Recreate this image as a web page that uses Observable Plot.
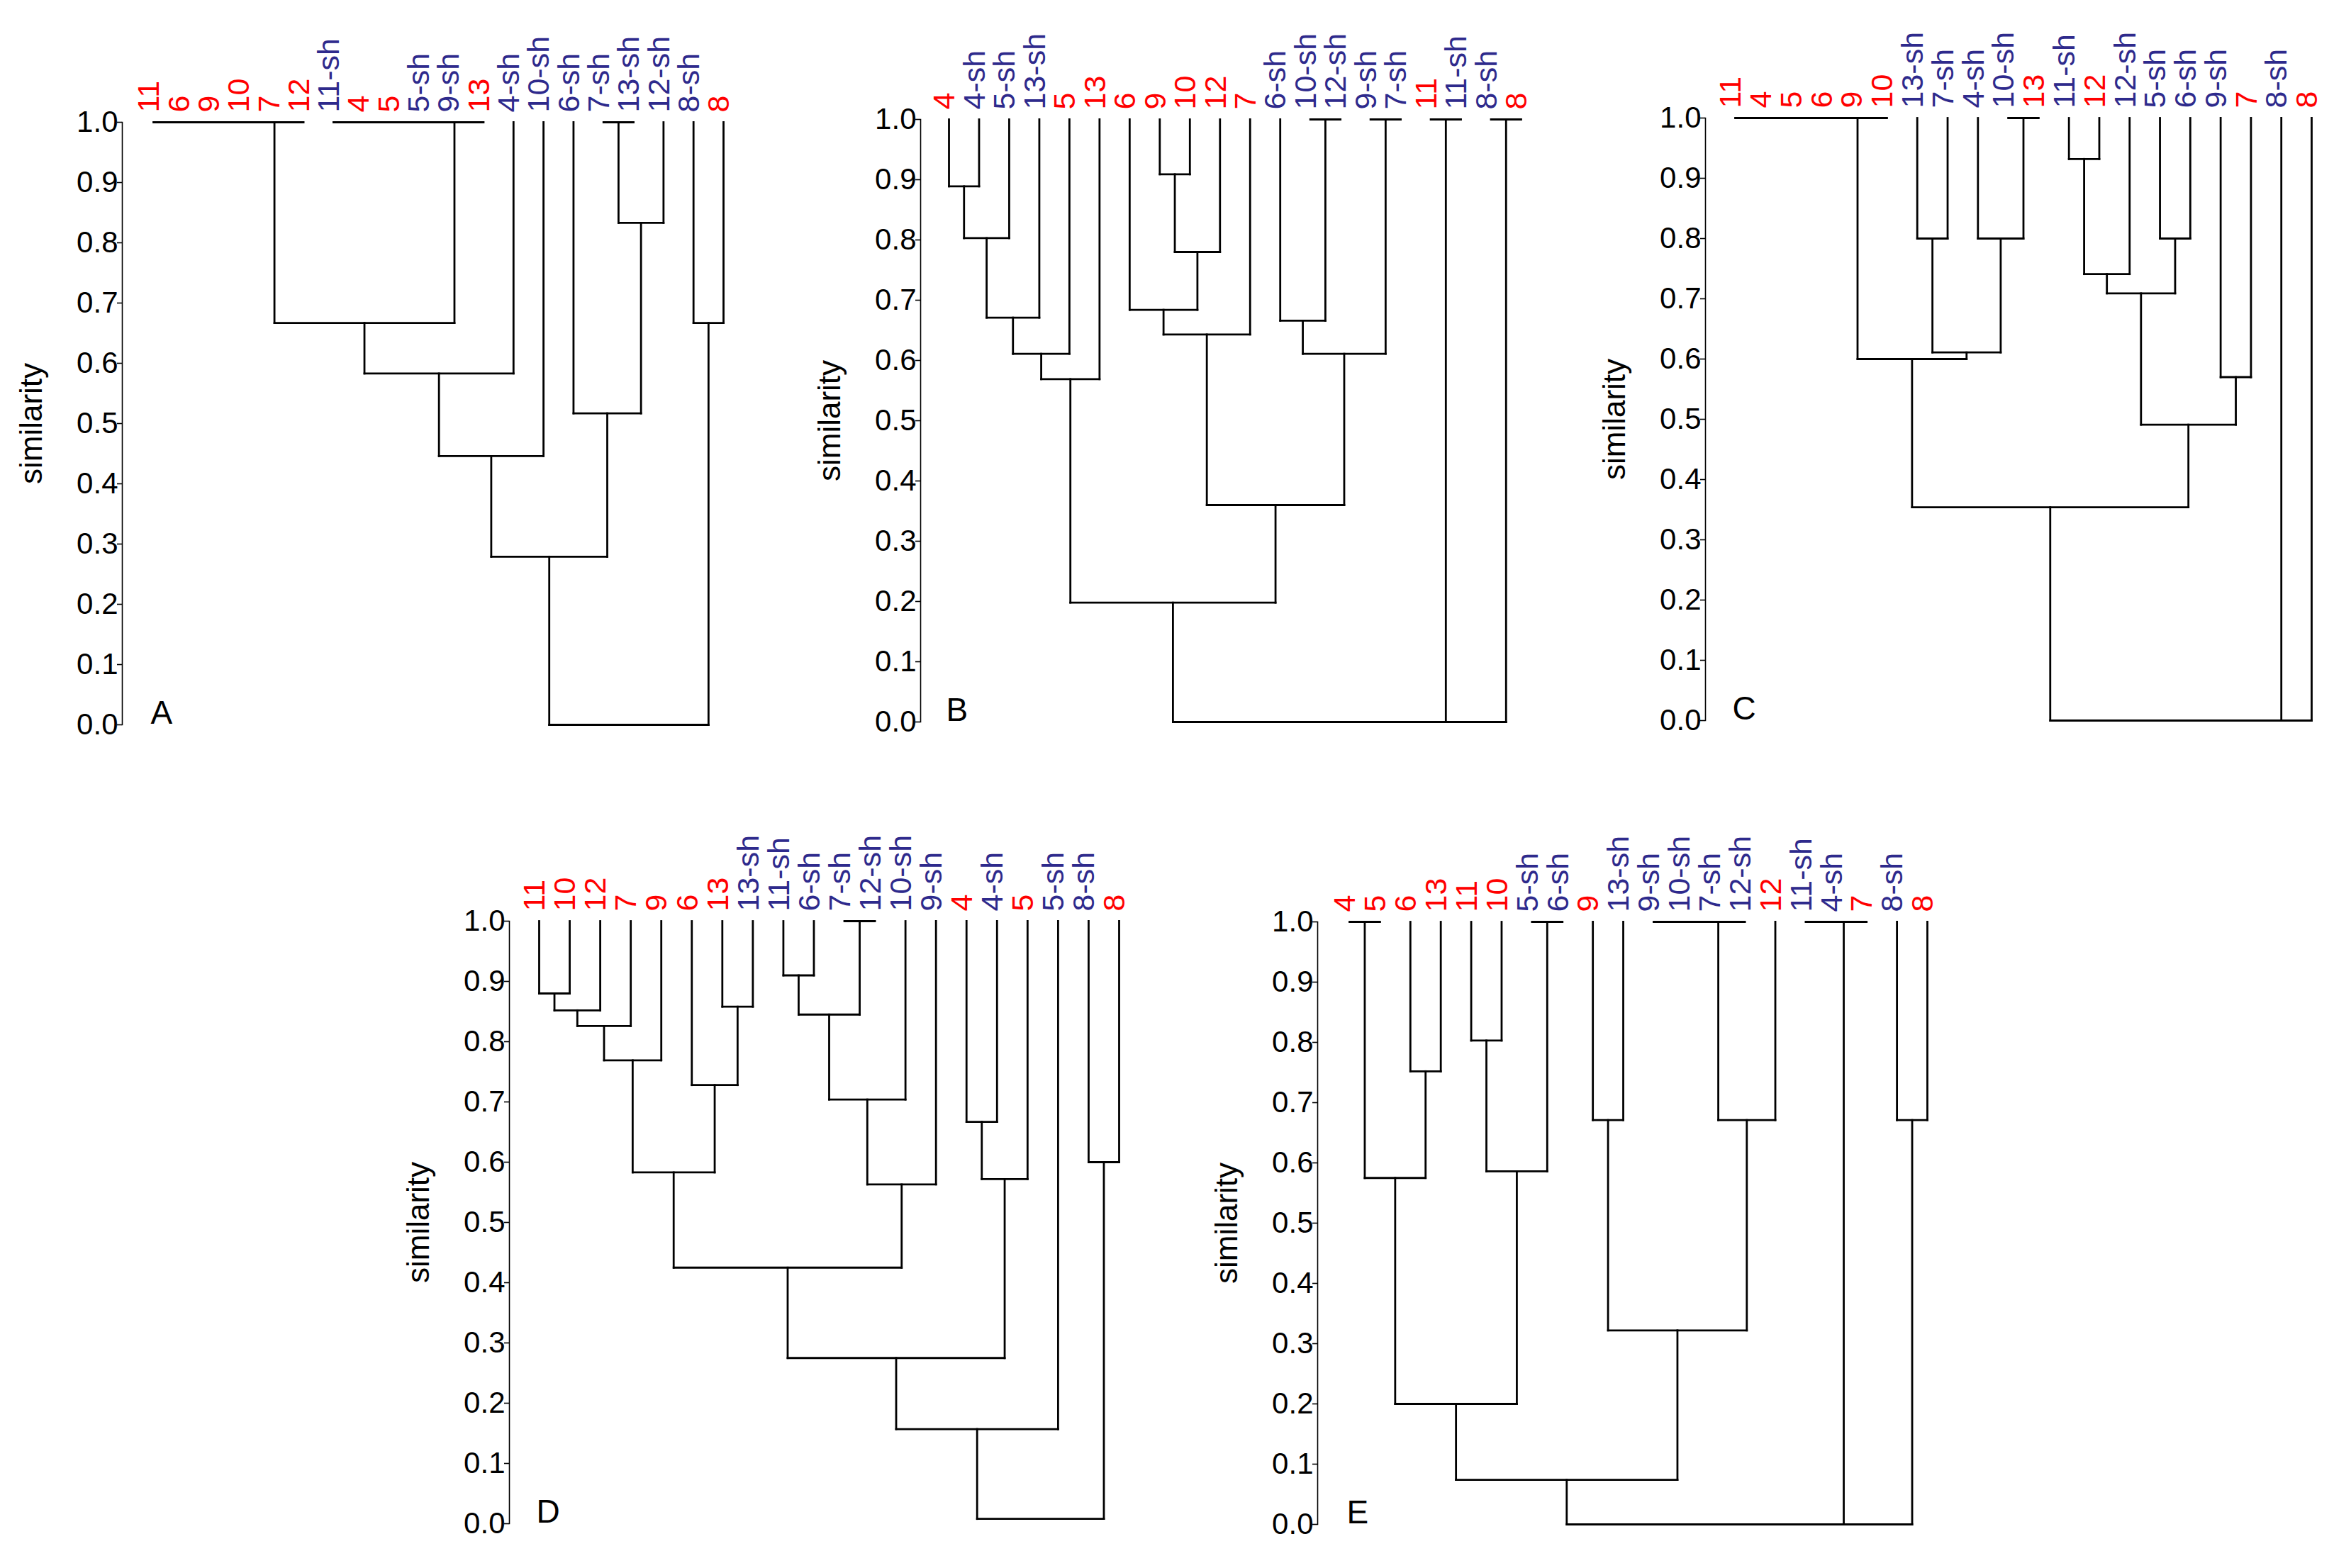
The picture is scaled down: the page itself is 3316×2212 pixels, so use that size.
<!DOCTYPE html>
<html>
<head>
<meta charset="utf-8">
<script src="https://cdn.jsdelivr.net/npm/d3@7"></script>
<script src="https://cdn.jsdelivr.net/npm/@observablehq/plot@0.6"></script>
<style>
  html, body { margin: 0; padding: 0; background: #fff; }
  #root { position: relative; width: 3316px; height: 2212px; background: #fff; overflow: hidden; }
  #root > div { position: absolute; }
</style>
</head>
<body>
<div id="root"></div>
<script>
// ---------- DATA ----------
// leaf order (left to right) and merges [left, right, similarity]; "cK" = result of merge K
const leavesA = ["11","6","9","10","7","12","11-sh","4","5","5-sh","9-sh","13","4-sh","10-sh","6-sh","7-sh","13-sh","12-sh","8-sh","8"];
const mergesA = [
  ["11","6",1.0],["c0","9",1.0],["c1","10",1.0],["c2","7",1.0],["c3","12",1.0],
  ["11-sh","4",1.0],["c5","5",1.0],["c6","5-sh",1.0],["c7","9-sh",1.0],["c8","13",1.0],
  ["c4","c9",0.667],["c10","4-sh",0.583],["c11","10-sh",0.446],
  ["7-sh","13-sh",1.0],["c13","12-sh",0.833],["6-sh","c14",0.517],
  ["c12","c15",0.279],["8-sh","8",0.667],["c16","c17",0.0]
];

const leavesB = ["4","4-sh","5-sh","13-sh","5","13","6","9","10","12","7","6-sh","10-sh","12-sh","9-sh","7-sh","11","11-sh","8-sh","8"];
const mergesB = [
  ["4","4-sh",0.889],["c0","5-sh",0.803],["c1","13-sh",0.671],["c2","5",0.611],["c3","13",0.569],
  ["9","10",0.909],["c5","12",0.780],["6","c6",0.684],["c7","7",0.643],
  ["10-sh","12-sh",1.0],["6-sh","c9",0.666],["9-sh","7-sh",1.0],["c10","c11",0.611],
  ["c8","c12",0.360],["c4","c13",0.198],["11","11-sh",1.0],["8-sh","8",1.0],
  ["c14","c15",0.0],["c17","c16",0.0]
];

const leavesC = ["11","4","5","6","9","10","13-sh","7-sh","4-sh","10-sh","13","11-sh","12","12-sh","5-sh","6-sh","9-sh","7","8-sh","8"];
const mergesC = [
  ["11","4",1.0],["c0","5",1.0],["c1","6",1.0],["c2","9",1.0],["c3","10",1.0],
  ["13-sh","7-sh",0.800],["10-sh","13",1.0],["4-sh","c6",0.800],["c5","c7",0.611],["c4","c8",0.600],
  ["11-sh","12",0.932],["c10","12-sh",0.741],["5-sh","6-sh",0.800],["c11","c12",0.709],
  ["9-sh","7",0.570],["c13","c14",0.491],["c9","c15",0.354],["c16","8-sh",0.0],["c17","8",0.0]
];

const leavesD = ["11","10","12","7","9","6","13","13-sh","11-sh","6-sh","7-sh","12-sh","10-sh","9-sh","4","4-sh","5","5-sh","8-sh","8"];
const mergesD = [
  ["11","10",0.880],["c0","12",0.852],["c1","7",0.826],["c2","9",0.769],
  ["13","13-sh",0.858],["6","c4",0.728],["c3","c5",0.583],
  ["11-sh","6-sh",0.910],["7-sh","12-sh",1.0],["c7","c8",0.845],["c9","10-sh",0.704],["c10","9-sh",0.563],
  ["c6","c11",0.425],["4","4-sh",0.667],["c13","5",0.572],["c12","c14",0.275],
  ["c15","5-sh",0.157],["8-sh","8",0.600],["c16","c17",0.008]
];

const leavesE = ["4","5","6","13","11","10","5-sh","6-sh","9","13-sh","9-sh","10-sh","7-sh","12-sh","12","11-sh","4-sh","7","8-sh","8"];
const mergesE = [
  ["4","5",1.0],["6","13",0.752],["c0","c1",0.575],["11","10",0.803],["5-sh","6-sh",1.0],
  ["c3","c4",0.586],["c2","c5",0.200],["9","13-sh",0.671],["9-sh","10-sh",1.0],["c8","7-sh",1.0],
  ["c9","12-sh",1.0],["c10","12",0.671],["c7","c11",0.322],["c6","c12",0.074],
  ["11-sh","4-sh",1.0],["c14","7",1.0],["8-sh","8",0.671],["c13","c15",0.0],["c17","c16",0.0]
];

const yTicks = [0.0,0.1,0.2,0.3,0.4,0.5,0.6,0.7,0.8,0.9,1.0];
const axisTitle = "similarity";
const panelLetters = ["A","B","C","D","E"];

// ---------- DRAWING ----------
const RED = "#ff0000", BLUE = "#2e2a8c";
const FONT = "'Liberation Sans', Arial, Helvetica, sans-serif";

function segments(leaves, merges) {
  const pos = new Map(), hgt = new Map(), segs = [];
  leaves.forEach((d, i) => { pos.set(d, i); hgt.set(d, 1); });
  merges.forEach(([a, b, s], i) => {
    const xa = pos.get(a), xb = pos.get(b);
    segs.push({x1: xa, y1: s, x2: xb, y2: s});
    if (hgt.get(a) !== s) segs.push({x1: xa, y1: hgt.get(a), x2: xa, y2: s});
    if (hgt.get(b) !== s) segs.push({x1: xb, y1: hgt.get(b), x2: xb, y2: s});
    pos.set("c" + i, (xa + xb) / 2);
    hgt.set("c" + i, s);
  });
  return segs;
}

const ML = 172, MT = 190, MR = 40, MB = 40;
function panel(leaves, merges, letter, g) {
  const width = ML + (g.l19 - g.ax) + MR;
  const height = MT + (g.y0 - g.y1) + MB;
  const segs = segments(leaves, merges);
  const chart = Plot.plot({
    width, height,
    marginLeft: ML, marginTop: MT, marginRight: MR, marginBottom: MB,
    style: {background: "transparent", fontFamily: FONT, overflow: "visible"},
    x: {domain: [0, 19], range: [ML + (g.l0 - g.ax), ML + (g.l19 - g.ax)], axis: null},
    y: {domain: [0, 1]},
    color: {type: "identity"},
    marks: [
      Plot.frame({anchor: "left", stroke: "#000", strokeWidth: 1.6}),
      Plot.axisY({anchor: "left", ticks: yTicks, tickFormat: d3.format(".1f"), tickSize: 7, tickPadding: -1,
                  fontSize: 42, stroke: "#000", strokeWidth: 1.6, fill: "#000", label: null}),
      Plot.link(segs, {x1: "x1", y1: "y1", x2: "x2", y2: "y2", stroke: "#000", strokeWidth: 2.8, strokeLinecap: "square"}),
      Plot.text(leaves, {x: (d, i) => i, y: () => 1, text: d => d, rotate: -90,
                         textAnchor: "start", lineAnchor: "middle", dy: -14, dx: -6,
                         fill: d => d.includes("-sh") ? BLUE : RED, fontSize: 43, fontFamily: FONT}),
      Plot.text([letter], {frameAnchor: "bottom-left", text: d => d, textAnchor: "start", lineAnchor: "bottom",
                           dx: g.l0 - g.ax - 4, dy: -2, fontSize: 46, fill: "#000", fontFamily: FONT}),
      Plot.text([axisTitle], {frameAnchor: "left", text: d => d, rotate: -90, textAnchor: "middle",
                              lineAnchor: "middle", dx: -128, fontSize: 44, fill: "#000", fontFamily: FONT})
    ]
  });
  const wrap = document.createElement("div");
  wrap.style.left = (g.ax - ML) + "px";
  wrap.style.top = (g.y1 - MT) + "px";
  wrap.appendChild(chart);
  document.getElementById("root").appendChild(wrap);
}

const geo = [
  {ax: 172,  l0: 216,  l19: 1020, y1: 172,  y0: 1022},
  {ax: 1298, l0: 1338, l19: 2145, y1: 168,  y0: 1018},
  {ax: 2405, l0: 2447, l19: 3260, y1: 166,  y0: 1016},
  {ax: 718,  l0: 760,  l19: 1578, y1: 1299, y0: 2149},
  {ax: 1858, l0: 1903, l19: 2718, y1: 1300, y0: 2150}
];
const panels = [[leavesA, mergesA], [leavesB, mergesB], [leavesC, mergesC], [leavesD, mergesD], [leavesE, mergesE]];
panels.forEach(([l, m], i) => panel(l, m, panelLetters[i], geo[i]));
</script>
</body>
</html>
